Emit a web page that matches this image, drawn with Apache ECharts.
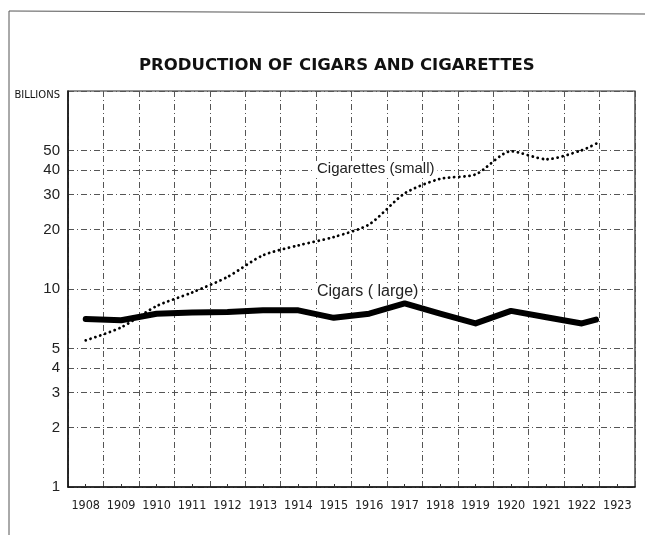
<!DOCTYPE html>
<html>
<head>
<meta charset="utf-8">
<script src="https://cdn.jsdelivr.net/npm/echarts@6/dist/echarts.min.js"></script>
<style>html,body{margin:0;padding:0;background:#fff;}#c{width:645px;height:535px;}</style>
</head>
<body>
<div id="c"></div>
<script>
// ---- data ----
var yearLabels = ['1908','1909','1910','1911','1912','1913','1914','1915','1916','1917','1918','1919','1920','1921','1922','1923'];
var yTickValues = [1, 2, 3, 4, 5, 10, 20, 30, 40, 50, 100];
var cigarYears = [1908,1909,1910,1911,1912,1913,1914,1915,1916,1917,1918,1919,1920,1921,1922,1922.4];
var cigarValues = [7.05,6.95,7.5,7.6,7.65,7.8,7.8,7.15,7.5,8.45,7.5,6.7,7.75,7.2,6.7,7.0];
var cigaretteYears = [1908,1909,1910,1911,1912,1913,1914,1915,1916,1917,1918,1919,1920,1921,1922,1922.5];
var cigaretteValues = [5.5,6.4,8.2,9.6,11.5,14.8,16.6,18.3,21.2,30.4,36,37.9,49.6,45.2,50.2,55.3];

function pairs(xs, ys){ return xs.map(function(x,i){ return [x, ys[i]]; }); }

var chart = echarts.init(document.getElementById('c'), null, {renderer:'canvas'});
var gridLine = {show:true, interval:0, lineStyle:{color:'#555', width:1, type:[6,3,1,3]}};
chart.setOption({
  backgroundColor:'#fff',
  animation:false,
  title:{
    text:'PRODUCTION OF CIGARS AND CIGARETTES',
    left:134, top:52,
    textStyle:{fontFamily:'DejaVu Sans', fontWeight:'bold', fontSize:16.5, color:'#111'}
  },
  grid:{left:68, right:10, top:91, bottom:48, show:true, borderColor:'#222', borderWidth:1.2, containLabel:false},
  xAxis:[{
    type:'category', data:yearLabels, boundaryGap:true,
    axisLine:{show:true, lineStyle:{color:'#111', width:1.5}},
    axisTick:{show:true, interval:0, inside:true, alignWithLabel:true, length:3, lineStyle:{color:'#333'}},
    axisLabel:{interval:0, margin:12, color:'#222', fontSize:12.5, fontFamily:'"Liberation Sans Narrow","DejaVu Sans Condensed","Liberation Sans",sans-serif'},
    splitLine:gridLine
  },{
    type:'value', min:1907.5, max:1923.5, show:false
  }],
  yAxis:{
    type:'log', logBase:10, min:1, max:100,
    axisLine:{show:true, lineStyle:{color:'#111', width:1.5}},
    axisTick:{show:false, customValues:yTickValues},
    axisLabel:{
      customValues:yTickValues, margin:8, color:'#222', fontSize:15,
      fontFamily:'"Liberation Sans",sans-serif',
      formatter:function(v){ var r=Math.round(v); return r===100 ? '{b|BILLIONS}' : String(r); },
      rich:{b:{fontSize:10, fontFamily:'DejaVu Sans', color:'#111', padding:[8,0,0,0]}}
    },
    splitLine:{show:true, lineStyle:{color:'#555', width:1, type:[6,3,1,3]}}
  },
  graphic:[
    {type:'polyline', shape:{points:[[9,535],[9,11],[645,14]]}, style:{stroke:'#555', lineWidth:1, fill:null}, silent:true},
    {type:'text', left:314, top:161, style:{text:'Cigarettes (small)', font:'15px "Liberation Sans", sans-serif', fill:'#222', backgroundColor:'#fff', padding:[0,3,0,3]}, z:100},
    {type:'text', left:314, top:284, style:{text:'Cigars ( large)', font:'16px "Liberation Sans", sans-serif', fill:'#222', backgroundColor:'#fff', padding:[0,3,0,3]}, z:100}
  ],
  series:[{
    name:'Cigars (large)', type:'line', xAxisIndex:1,
    data:pairs(cigarYears, cigarValues),
    showSymbol:false, symbol:'none',
    lineStyle:{color:'#000', width:6, cap:'round', join:'round'}
  },{
    name:'Cigarettes (small)', type:'line', xAxisIndex:1,
    data:pairs(cigaretteYears, cigaretteValues),
    showSymbol:false, symbol:'none', smooth:0.25,
    lineStyle:{color:'#000', width:2.8, type:[0.1,5], cap:'round'}
  }]
});
</script>
</body>
</html>
